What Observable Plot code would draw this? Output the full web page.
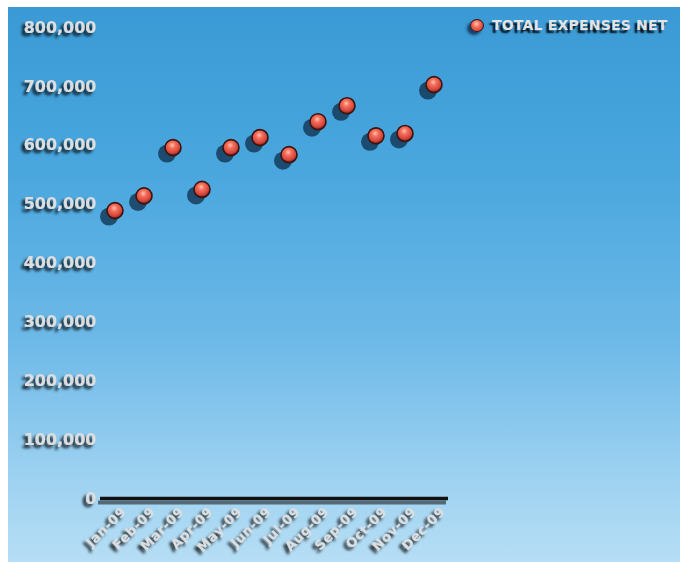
<!DOCTYPE html>
<html><head><meta charset="utf-8">
<script src="https://cdn.jsdelivr.net/npm/d3@7"></script>
<script src="https://cdn.jsdelivr.net/npm/@observablehq/plot@0.6"></script>
<style>
body{margin:0;background:#fff}
#wrap{position:relative;width:680px;height:562px;overflow:hidden;background:#fff}
#bg{position:absolute;left:8px;top:7px;right:0;bottom:0;background:linear-gradient(#3a9ad5 0%, #4aa7de 30%, #6db9e8 60%, #9ed2f1 85%, #b6def5 100%)}
#chart{position:absolute;left:0;top:0}
#legend{position:absolute;left:470px;top:17px;display:flex;align-items:center;font-family:"DejaVu Sans",sans-serif;font-weight:bold;font-size:14px;letter-spacing:0.2px;color:#e4e4e4;text-shadow:-2.5px 2.5px 1.8px rgba(0,0,0,0.9);white-space:nowrap}
#legend .sw{width:12px;height:11px;border-radius:50%;margin-right:8px;background:radial-gradient(circle at 45% 35%,#ffc2b0 0%,#f4705c 35%,#d3443a 75%,#6b1a14 100%);border:1px solid #3a1510;box-shadow:-3px 3px 3px rgba(0,20,50,0.7)}
</style></head>
<body>
<div id="wrap"><div id="bg"></div><div id="chart"></div>
<div id="legend"><span class="sw"></span><span>TOTAL EXPENSES NET</span></div></div>
<script>
const months = ["Jan-09","Feb-09","Mar-09","Apr-09","May-09","Jun-09","Jul-09","Aug-09","Sep-09","Oct-09","Nov-09","Dec-09"];
const expenses = [489000, 514000, 596000, 525000, 596000, 613000, 584000, 640000, 667000, 616000, 620000, 703000];
const yTicks = [0,100000,200000,300000,400000,500000,600000,700000,800000];
const seriesName = "TOTAL EXPENSES NET";

const data = months.map((m, i) => ({month: m, value: expenses[i]}));

const plot = Plot.plot({
  width: 680,
  height: 562,
  marginLeft: 100,
  marginRight: 232,
  marginTop: 27,
  marginBottom: 64,
  style: {background: "transparent", fontFamily: "DejaVu Sans, sans-serif", overflow: "visible"},
  x: {type: "band", domain: months, padding: 0},
  y: {domain: [0, 800000]},
  marks: [
    Plot.ruleY([0], {stroke: "#000", strokeOpacity: 0.5, strokeWidth: 4, dx: -2, dy: 4, ariaLabel: "axisshadow"}),
    Plot.ruleY([0], {stroke: "#111", strokeWidth: 3.5}),
    Plot.axisY({ticks: yTicks, tickSize: 0, tickPadding: 4, tickFormat: d3.format(","), fontSize: 16, fontWeight: "bold", fill: "#dedede", label: null}),
    Plot.axisX({tickSize: 0, tickPadding: 11, tickRotate: -45, dx: 9, fontSize: 13, fontWeight: "bold", fill: "#dedede", label: null}),
    Plot.dot(data, {x: "month", y: "value", r: 9, dx: -6, dy: 6, fill: "#082540", fillOpacity: 0.7, ariaLabel: "dotshadow"}),
    Plot.dot(data, {x: "month", y: "value", r: 8, fill: "url(#ball)", stroke: "#3a1510", strokeWidth: 1.6, title: d => `${seriesName}: ${d3.format(",")(d.value)}`})
  ]
});

const svg = d3.select(plot);
const defs = svg.insert("defs", ":first-child");
const g = defs.append("radialGradient").attr("id", "ball").attr("cx", "45%").attr("cy", "35%").attr("r", "65%");
[["0%","#ffc2b0"],["30%","#f4705c"],["75%","#d3443a"],["100%","#6b1a14"]].forEach(([o,c]) => g.append("stop").attr("offset", o).attr("stop-color", c));
const ts = defs.append("filter").attr("id", "tshadow").attr("x", "-30%").attr("y", "-30%").attr("width", "160%").attr("height", "170%");
ts.append("feDropShadow").attr("dx", -3).attr("dy", 3).attr("stdDeviation", 1.5).attr("flood-color", "#000").attr("flood-opacity", 0.9);
const bl = defs.append("filter").attr("id", "blur").attr("x", "-50%").attr("y", "-50%").attr("width", "200%").attr("height", "200%");
bl.append("feGaussianBlur").attr("stdDeviation", 2.8);
const bl2 = defs.append("filter").attr("id", "blur2").attr("x", "-10%").attr("y", "-300%").attr("width", "120%").attr("height", "700%");
bl2.append("feGaussianBlur").attr("stdDeviation", 1.8);

svg.selectAll('g[aria-label="y-axis tick label"], g[aria-label="x-axis tick label"]').attr("filter", "url(#tshadow)");
svg.selectAll('g[aria-label="x-axis tick label"] text').attr("letter-spacing", "0.6");
svg.selectAll('g[aria-label="dotshadow"]').attr("filter", "url(#blur)");
svg.selectAll('g[aria-label="axisshadow"]').attr("filter", "url(#blur2)");

document.getElementById("chart").appendChild(plot);
</script>
</body></html>
